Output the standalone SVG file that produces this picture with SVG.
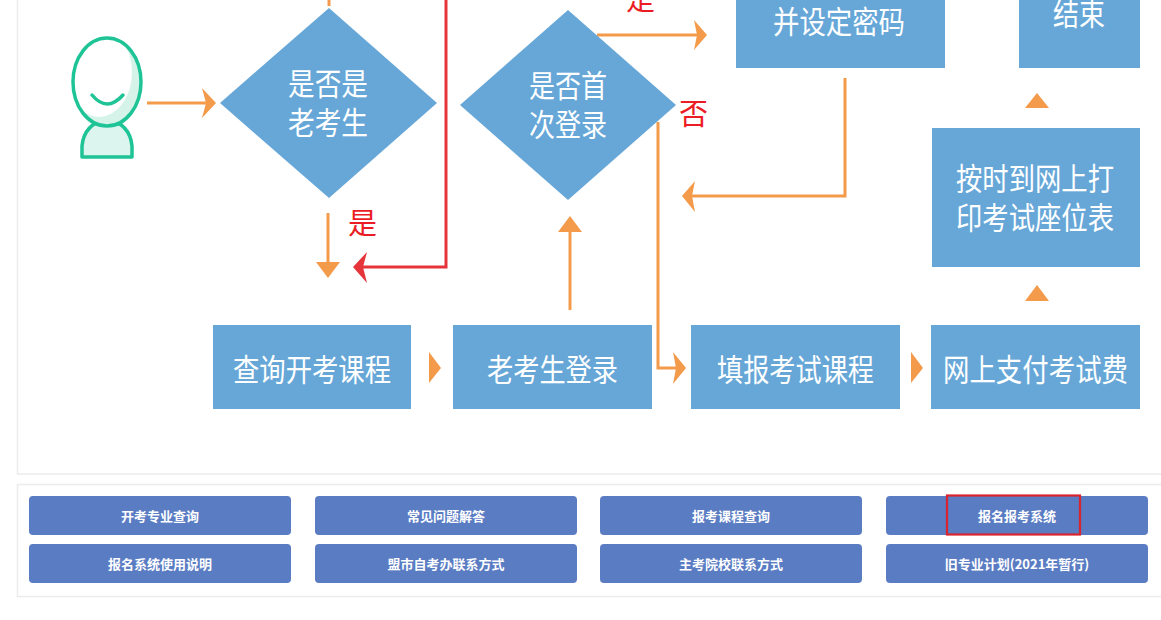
<svg xmlns="http://www.w3.org/2000/svg" width="1161" height="620" viewBox="0 0 1161 620">
<defs>
<style>
.box{fill:#66a7d8}
.bt{fill:#ffffff;font-family:"Noto Sans CJK SC","Noto Sans",sans-serif;font-size:31px}
.red{fill:#ec1c24;font-family:"Noto Sans CJK SC","Noto Sans",sans-serif;font-size:29px}
.ol{fill:none;stroke:#f39a4b;stroke-width:3}
.oh{fill:#f39a4b}
.btn{fill:#5a7cc3}
.btx{fill:#ffffff;font-family:"Noto Sans CJK SC","Noto Sans",sans-serif;font-size:13px;font-weight:bold;text-anchor:middle}
.panel{fill:#ffffff;stroke:#ececec;stroke-width:1.5}
</style>
<clipPath id="headClip"><ellipse cx="107" cy="82" rx="34" ry="44"/></clipPath>
</defs>
<rect x="0" y="0" width="1161" height="620" fill="#ffffff"/>
<rect class="panel" x="17.5" y="-10" width="1150" height="484"/>
<rect class="panel" x="17.5" y="484.5" width="1150" height="112"/>

<g id="person">
<path d="M82,157 L82,146 Q84,124 107,119 Q130,124 132,146 L132,157 Z" fill="#dcf5ee" stroke="#1fc496" stroke-width="3.5" stroke-linejoin="round"/>
<ellipse cx="107" cy="82" rx="34" ry="44" fill="#d6f3ea"/>
<g clip-path="url(#headClip)"><ellipse cx="99" cy="72" rx="33" ry="45" fill="#ffffff"/></g>
<ellipse cx="107" cy="82" rx="34" ry="44" fill="none" stroke="#1fc496" stroke-width="3.5"/>
<path d="M92,95 Q107,113 123,95" fill="none" stroke="#1fc496" stroke-width="3.5" stroke-linecap="round"/>
</g>

<g id="connectors">
<line class="ol" x1="147" y1="103" x2="207" y2="103"/>
<path class="oh" d="M202,88 L216,103 L202,118 L206,103 Z"/>
<line class="ol" x1="329" y1="0" x2="329" y2="6"/>
<line class="ol" x1="328" y1="213" x2="328" y2="266"/>
<path class="oh" d="M316,262 L340,262 L328,278 Z"/>
<polyline points="446,0 446,267 362,267" fill="none" stroke="#e5343a" stroke-width="3"/>
<path d="M367,252 L353,267 L367,283 L363,267 Z" fill="#e5343a"/>
<line class="ol" x1="597" y1="35" x2="699" y2="35"/>
<path class="oh" d="M694,20 L707,35 L694,50 L697,35 Z"/>
<polyline class="ol" points="845,78 845,196 692,196"/>
<path class="oh" d="M695,181 L682,196 L695,212 L692,196 Z"/>
<polyline class="ol" points="658,122 658,368 677,368"/>
<path class="oh" d="M673,352 L686,368 L673,384 L676,368 Z"/>
<line class="ol" x1="570" y1="310" x2="570" y2="228"/>
<path class="oh" d="M558,232 L570,216 L582,232 Z"/>
<path class="oh" d="M1025,108 L1037,93 L1049,108 Z"/>
<path class="oh" d="M1025,301 L1037,285 L1049,301 Z"/>
<path class="oh" d="M429,352 L441,368 L429,383 Z"/>
<path class="oh" d="M911,352 L923,368 L911,383 Z"/>
</g>

<g id="decision1">
<polygon class="box" points="220,103 329,8 437,103 329,198"/>
<text class="bt" x="288" y="95" textLength="80" lengthAdjust="spacingAndGlyphs">是否是</text>
<text class="bt" x="288" y="134" textLength="80" lengthAdjust="spacingAndGlyphs">老考生</text>
</g>
<g id="label-yes1"><text class="red" x="348" y="234">是</text></g>

<g id="decision2">
<polygon class="box" points="460,105 568,10 676,105 568,200"/>
<text class="bt" x="529" y="97" textLength="78" lengthAdjust="spacingAndGlyphs">是否首</text>
<text class="bt" x="529" y="136" textLength="78" lengthAdjust="spacingAndGlyphs">次登录</text>
</g>
<g id="label-yes2"><text class="red" x="626" y="10">是</text></g>
<g id="label-no"><text class="red" x="679" y="125">否</text></g>

<g id="register">
<rect class="box" x="736" y="-60" width="209" height="128"/>
<text class="bt" x="773" y="33" textLength="132" lengthAdjust="spacingAndGlyphs">并设定密码</text>
</g>
<g id="end">
<rect class="box" x="1019" y="-60" width="121" height="128"/>
<text class="bt" x="1053" y="25" textLength="52" lengthAdjust="spacingAndGlyphs">结束</text>
</g>
<g id="print">
<rect class="box" x="932" y="128" width="208" height="139"/>
<text class="bt" x="956" y="190" textLength="158" lengthAdjust="spacingAndGlyphs">按时到网上打</text>
<text class="bt" x="956" y="229" textLength="158" lengthAdjust="spacingAndGlyphs">印考试座位表</text>
</g>
<g id="query">
<rect class="box" x="213" y="325" width="198" height="84"/>
<text class="bt" x="233" y="381" textLength="158" lengthAdjust="spacingAndGlyphs">查询开考课程</text>
</g>
<g id="login">
<rect class="box" x="453" y="325" width="199" height="84"/>
<text class="bt" x="487" y="381" textLength="131" lengthAdjust="spacingAndGlyphs">老考生登录</text>
</g>
<g id="fill">
<rect class="box" x="691" y="325" width="209" height="84"/>
<text class="bt" x="717" y="381" textLength="157" lengthAdjust="spacingAndGlyphs">填报考试课程</text>
</g>
<g id="pay">
<rect class="box" x="931" y="325" width="209" height="84"/>
<text class="bt" x="943" y="381" textLength="185" lengthAdjust="spacingAndGlyphs">网上支付考试费</text>
</g>

<g id="buttons">
<g id="btn1"><rect class="btn" x="29" y="496" width="262" height="39" rx="4"/><text class="btx" x="160" y="521">开考专业查询</text></g>
<g id="btn2"><rect class="btn" x="315" y="496" width="262" height="39" rx="4"/><text class="btx" x="446" y="521">常见问题解答</text></g>
<g id="btn3"><rect class="btn" x="600" y="496" width="262" height="39" rx="4"/><text class="btx" x="731" y="521">报考课程查询</text></g>
<g id="btn4"><rect class="btn" x="886" y="496" width="262" height="39" rx="4"/><text class="btx" x="1017" y="521">报名报考系统</text></g>
<g id="btn5"><rect class="btn" x="29" y="544" width="262" height="39" rx="4"/><text class="btx" x="160" y="569">报名系统使用说明</text></g>
<g id="btn6"><rect class="btn" x="315" y="544" width="262" height="39" rx="4"/><text class="btx" x="446" y="569">盟市自考办联系方式</text></g>
<g id="btn7"><rect class="btn" x="600" y="544" width="262" height="39" rx="4"/><text class="btx" x="731" y="569">主考院校联系方式</text></g>
<g id="btn8"><rect class="btn" x="886" y="544" width="262" height="39" rx="4"/><text class="btx" x="1017" y="569">旧专业计划(2021年暂行)</text></g>
<rect id="highlight" x="947" y="495.5" width="133" height="39" fill="none" stroke="#d9232e" stroke-width="2.2"/>
</g>
</svg>
